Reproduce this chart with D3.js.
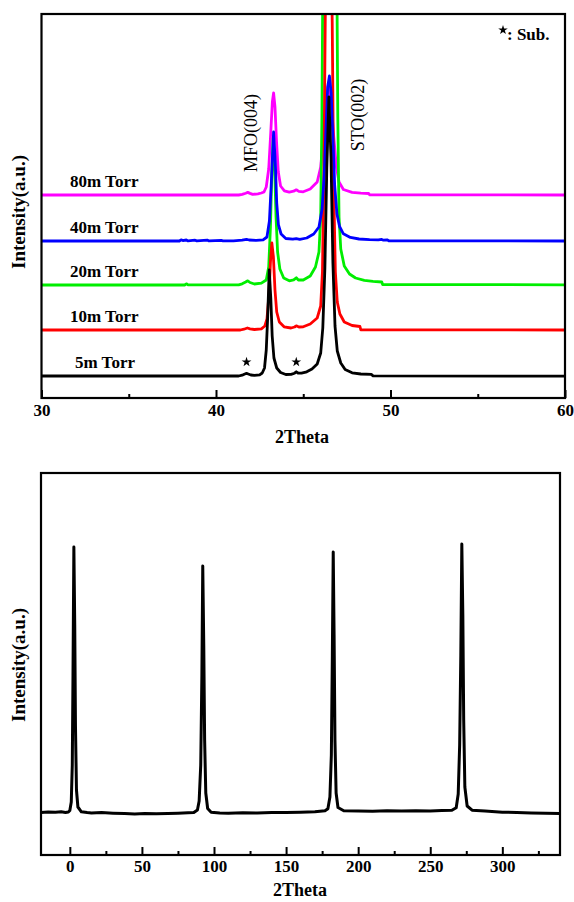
<!DOCTYPE html>
<html>
<head>
<meta charset="utf-8">
<script src="https://cdn.jsdelivr.net/npm/d3@7/dist/d3.min.js"></script>
<style>
  html, body { margin: 0; padding: 0; background: #fff; }
  svg { display: block; }
  text { font-family: "Liberation Serif", "Times New Roman", serif; }
</style>
</head>
<body>
<svg id="chart" width="574" height="902"></svg>
<script>
// ---------- DATA ----------
// Top panel: XRD 2Theta scans, raw intensity (a.u.)
const seriesLabels = ["5m Torr", "10m Torr", "20m Torr", "40m Torr", "80m Torr"];
const seriesColors = ["#000000", "#ff0000", "#00ee00", "#0000ff", "#ff00ff"];
const seriesOffsets = [0, 460, 910, 1350, 1810];   // vertical stacking offsets (a.u.)
const baseIntensity = 220;

const scan5 = [[30,220],[41.3,220],[41.5,228],[41.65,240],[41.75,246],[41.85,240],[42.0,230],[42.2,226],[42.5,232],[42.65,250],[42.78,300],[42.88,480],[42.96,800],[43.05,1280],[43.14,1000],[43.22,620],[43.32,400],[43.48,300],[43.7,255],[44.0,235],[44.3,236],[44.5,248],[44.6,262],[44.7,250],[44.9,248],[45.2,262],[45.5,290],[45.8,340],[46.0,450],[46.12,700],[46.24,1300],[46.35,2300],[46.47,3010],[46.59,2400],[46.7,1350],[46.82,720],[46.95,470],[47.15,350],[47.4,285],[47.8,252],[48.3,240],[48.9,236],[49.0,222],[60,218]];
const scan10 = [[30,220],[41.4,220],[41.6,228],[41.8,240],[41.95,232],[42.2,225],[42.6,232],[42.8,260],[42.92,330],[43.03,560],[43.12,900],[43.2,1090],[43.29,950],[43.38,620],[43.48,400],[43.63,300],[43.9,252],[44.3,240],[44.5,250],[44.6,262],[44.75,250],[45.0,252],[45.4,280],[45.8,340],[46.0,460],[46.1,800],[46.18,1700],[46.26,3300],[46.36,4500],[46.56,4500],[46.66,3300],[46.74,1700],[46.84,800],[46.95,500],[47.1,380],[47.35,300],[47.8,265],[48.25,255],[48.3,222],[60,220]];
const scan20 = [[30,220],[38.2,220],[38.3,232],[38.4,221],[41.3,222],[41.5,232],[41.7,250],[41.82,262],[41.95,245],[42.2,230],[42.6,238],[42.88,270],[43.02,400],[43.12,800],[43.2,1350],[43.28,1690],[43.36,1400],[43.44,900],[43.53,550],[43.66,380],[43.88,290],[44.2,262],[44.45,272],[44.6,292],[44.72,270],[45.0,270],[45.4,310],[45.7,400],[45.9,550],[46.0,900],[46.07,1900],[46.12,3200],[46.2,5000],[46.85,5000],[46.93,3200],[46.98,1900],[47.05,900],[47.15,580],[47.35,410],[47.65,330],[48.0,290],[48.5,266],[49.0,256],[49.5,250],[49.55,225],[60,222]];
const scan40 = [[30,220],[37.9,220],[38.0,232],[38.1,224],[38.3,230],[38.4,221],[38.8,228],[38.9,221],[39.5,229],[39.6,221],[40.3,226],[40.4,221],[41.0,222],[41.5,228],[41.75,236],[41.9,230],[42.3,226],[42.7,232],[42.92,260],[43.06,420],[43.17,800],[43.3,1310],[43.4,1000],[43.48,600],[43.58,380],[43.73,290],[44.0,245],[44.4,238],[44.6,244],[44.8,236],[45.2,250],[45.6,290],[45.9,360],[46.08,540],[46.2,880],[46.3,1330],[46.4,1760],[46.5,1870],[46.6,1700],[46.7,1250],[46.8,780],[46.93,490],[47.08,365],[47.3,292],[47.7,256],[48.2,240],[48.8,234],[49.3,232],[49.5,236],[49.6,228],[49.8,232],[49.9,222],[60,220]];
const scan80 = [[30,220],[41.3,220],[41.5,226],[41.7,238],[41.82,246],[41.95,236],[42.1,226],[42.4,232],[42.6,240],[42.75,250],[42.88,300],[43.02,480],[43.14,850],[43.23,1150],[43.3,1240],[43.38,1100],[43.47,750],[43.57,450],[43.7,310],[43.92,262],[44.2,248],[44.45,258],[44.6,272],[44.75,256],[45.0,252],[45.4,280],[45.8,350],[46.0,500],[46.15,800],[46.3,1150],[46.45,1330],[46.6,1150],[46.75,800],[46.9,500],[47.05,350],[47.3,275],[47.8,246],[48.3,238],[48.75,235],[48.8,222],[60,220]];
const scans = [scan5, scan10, scan20, scan40, scan80];
const drawOrder = [4, 2, 1, 3, 0];
const subPeaks = [41.75, 44.6];
const peakLabels = ["MFO(004)", "STO(002)"];
const topTicks = [30, 40, 50, 60];
const topMinor = [35, 45, 55];

// Bottom panel: phi scan
const phiScan = [[-20,425],[-15,430],[-10,428],[-6,432],[-3,425],[-1,430],[0,445],[1,530],[1.7,900],[2.2,1800],[2.8,3080],[3.4,2300],[3.9,1300],[4.6,650],[5.6,480],[8,432],[12,424],[15,420],[22,424],[30,418],[38,414],[45,410],[52,414],[60,412],[68,416],[75,418],[82,422],[86,425],[88.5,450],[89.7,540],[90.8,900],[91.6,1800],[92.2,2890],[92.9,2100],[93.5,1150],[94.3,620],[95.6,465],[98,428],[104,420],[110,418],[120,422],[130,420],[140,424],[150,425],[160,428],[170,432],[177,442],[179,462],[180.4,580],[181.4,1000],[182.1,2000],[182.7,3030],[183.3,2200],[183.9,1150],[184.7,620],[186,475],[190,442],[200,440],[210,438],[220,442],[230,440],[240,443],[250,440],[258,444],[265,447],[268,472],[269.4,610],[270.4,1100],[271.2,2000],[271.9,3110],[272.6,2400],[273.2,1350],[274,680],[275.6,490],[279,448],[288,440],[300,428],[310,425],[320,420],[330,418],[340,415]];
const botTicks = [0, 50, 100, 150, 200, 250, 300];
const botMinor = [25, 75, 125, 175, 225, 275, 325];

// ---------- DRAW ----------
const svg = d3.select("#chart");
svg.append("rect").attr("width", 574).attr("height", 902).attr("fill", "#fff");

// Top panel
const T = {l: 41.5, r: 565, t: 14, b: 398};
const xT = d3.scaleLinear().domain([30, 60]).range([T.l, T.r]);
const yT = d3.scaleLinear().domain([0, 3840]).range([T.b, T.t]);

svg.append("clipPath").attr("id", "clipT").append("rect")
  .attr("x", T.l).attr("y", T.t).attr("width", T.r - T.l).attr("height", T.b - T.t);

const gT = svg.append("g").attr("clip-path", "url(#clipT)");
drawOrder.forEach(i => {
  const off = seriesOffsets[i];
  const line = d3.line().x(d => xT(d[0])).y(d => yT(d[1] + off));
  gT.append("path").datum(scans[i]).attr("d", line)
    .attr("fill", "none").attr("stroke", seriesColors[i])
    .attr("stroke-width", 2.8).attr("stroke-linejoin", "round");
});

// series labels
seriesLabels.forEach((lab, i) => {
  svg.append("text").attr("x", i === 0 ? 75 : 70)
    .attr("y", yT(baseIntensity + seriesOffsets[i]) - 8)
    .attr("font-size", 17).attr("font-weight", "bold").text(lab);
});

// substrate stars
subPeaks.forEach(p => {
  svg.append("path").attr("d", d3.symbol(d3.symbolStar, 30)())
    .attr("transform", `translate(${xT(p)},${yT(baseIntensity) - 14})`)
    .attr("fill", "#000");
});

// peak labels (rotated)
svg.append("text").attr("transform", "translate(257,133) rotate(-90)")
  .attr("text-anchor", "middle").attr("font-size", 18).text(peakLabels[0]);
svg.append("text").attr("transform", "translate(364,115) rotate(-90)")
  .attr("text-anchor", "middle").attr("font-size", 18).text(peakLabels[1]);

// legend
svg.append("path").attr("d", d3.symbol(d3.symbolStar, 28)())
  .attr("transform", "translate(503,30)").attr("fill", "#000");
svg.append("text").attr("x", 507).attr("y", 40).attr("font-size", 17)
  .attr("font-weight", "bold").text(": Sub.");

// top axis
const axT = svg.append("g").attr("transform", `translate(0,${T.b})`)
  .call(d3.axisBottom(xT).tickValues(topTicks).tickSize(-8).tickPadding(6).tickFormat(d3.format("d")));
axT.select(".domain").remove();
axT.selectAll("line").attr("stroke", "#000").attr("stroke-width", 2);
axT.selectAll("text").attr("font-size", 17).attr("font-weight", "bold")
  .attr("font-family", "Liberation Serif, serif").attr("fill", "#000");
const axTm = svg.append("g").attr("transform", `translate(0,${T.b})`)
  .call(d3.axisBottom(xT).tickValues(topMinor).tickSize(-4).tickFormat(""));
axTm.select(".domain").remove();
axTm.selectAll("line").attr("stroke", "#000").attr("stroke-width", 2);

svg.append("rect").attr("x", T.l).attr("y", T.t).attr("width", T.r - T.l).attr("height", T.b - T.t)
  .attr("fill", "none").attr("stroke", "#000").attr("stroke-width", 2.2);

svg.append("text").attr("x", 302).attr("y", 443).attr("text-anchor", "middle")
  .attr("font-size", 18).attr("font-weight", "bold").text("2Theta");
svg.append("text").attr("transform", "translate(25,212) rotate(-90)").attr("text-anchor", "middle")
  .attr("font-size", 19).attr("font-weight", "bold").text("Intensity(a.u.)");

// Bottom panel
const B = {l: 41, r: 560, t: 473, b: 855};
const xB = d3.scaleLinear().domain([-20, 340]).range([B.l, B.r]);
const yB = d3.scaleLinear().domain([0, 3820]).range([B.b, B.t]);

svg.append("path").datum(phiScan)
  .attr("d", d3.line().x(d => xB(d[0])).y(d => yB(d[1])))
  .attr("fill", "none").attr("stroke", "#000").attr("stroke-width", 3).attr("stroke-linejoin", "round");

const axB = svg.append("g").attr("transform", `translate(0,${B.b})`)
  .call(d3.axisBottom(xB).tickValues(botTicks).tickSize(-8).tickPadding(5).tickFormat(d3.format("d")));
axB.select(".domain").remove();
axB.selectAll("line").attr("stroke", "#000").attr("stroke-width", 2);
axB.selectAll("text").attr("font-size", 17).attr("font-weight", "bold")
  .attr("font-family", "Liberation Serif, serif").attr("fill", "#000");
const axBm = svg.append("g").attr("transform", `translate(0,${B.b})`)
  .call(d3.axisBottom(xB).tickValues(botMinor).tickSize(-4).tickFormat(""));
axBm.select(".domain").remove();
axBm.selectAll("line").attr("stroke", "#000").attr("stroke-width", 2);

svg.append("rect").attr("x", B.l).attr("y", B.t).attr("width", B.r - B.l).attr("height", B.b - B.t)
  .attr("fill", "none").attr("stroke", "#000").attr("stroke-width", 2.2);

svg.append("text").attr("x", 300).attr("y", 896).attr("text-anchor", "middle")
  .attr("font-size", 18).attr("font-weight", "bold").text("2Theta");
svg.append("text").attr("transform", "translate(25,665) rotate(-90)").attr("text-anchor", "middle")
  .attr("font-size", 19).attr("font-weight", "bold").text("Intensity(a.u.)");
</script>
</body>
</html>
